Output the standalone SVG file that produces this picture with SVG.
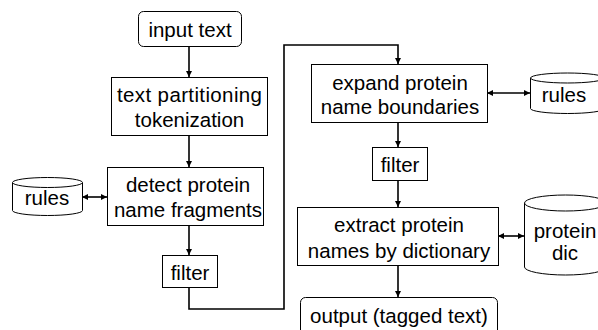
<svg xmlns="http://www.w3.org/2000/svg" width="598" height="330" viewBox="0 0 598 330">
  <defs>
    <marker id="ah" viewBox="0 0 10 10" refX="10" refY="5" markerWidth="4" markerHeight="4" orient="auto-start-reverse" markerUnits="strokeWidth">
      <path d="M0,0 L10,5 L0,10 Z" fill="#000"/>
    </marker>
  </defs>
  <style>
    .box { fill: #fff; stroke: #000; stroke-width: 1; }
    .db { fill: #fff; stroke: #000; stroke-width: 1; }
    .lbl { font-family: "Liberation Sans", Arial, sans-serif; font-size: 20.5px; fill: #000; text-anchor: middle; }
    .conn { fill: none; stroke: #000; stroke-width: 1.6; }
  </style>
  <rect width="598" height="330" fill="#fff"/>

  <g id="connectors">
    <path class="conn" d="M189,46 V77" marker-end="url(#ah)"/>
    <path class="conn" d="M189,135 V167" marker-end="url(#ah)"/>
    <path class="conn" d="M189,225 V255" marker-end="url(#ah)"/>
    <path class="conn" d="M82,197 H107" marker-start="url(#ah)" marker-end="url(#ah)"/>
    <path class="conn" d="M189,287 V309 H284 V45 H398 V64" marker-end="url(#ah)"/>
    <path class="conn" d="M487,93 H530" marker-start="url(#ah)" marker-end="url(#ah)"/>
    <path class="conn" d="M398,122 V147" marker-end="url(#ah)"/>
    <path class="conn" d="M398,180 V207" marker-end="url(#ah)"/>
    <path class="conn" d="M498,236 H524" marker-start="url(#ah)" marker-end="url(#ah)"/>
    <path class="conn" d="M398,265 V297" marker-end="url(#ah)"/>
  </g>

  <g id="input-text">
    <rect class="box" x="138.5" y="11.5" width="103" height="35" rx="5"/>
    <text class="lbl" x="190" y="37">input text</text>
  </g>

  <g id="partitioning">
    <rect class="box" x="111.5" y="77.5" width="156" height="58"/>
    <text class="lbl" x="189.5" y="102" textLength="145">text partitioning</text>
    <text class="lbl" x="189.5" y="127">tokenization</text>
  </g>

  <g id="detect-fragments">
    <rect class="box" x="107.5" y="167.5" width="156" height="58"/>
    <text class="lbl" x="188" y="192">detect protein</text>
    <text class="lbl" x="188" y="217">name fragments</text>
  </g>

  <g id="rules-left">
    <path class="db" d="M12.5,182.5 A35,5 0 0 1 82.5,182.5 V210.5 A35,5 0 0 1 12.5,210.5 Z"/>
    <path class="db" d="M12.5,182.5 A35,5 0 0 0 82.5,182.5"/>
    <text class="lbl" x="47" y="205">rules</text>
  </g>

  <g id="filter-1">
    <rect class="box" x="162.5" y="255.5" width="55" height="32"/>
    <text class="lbl" x="190" y="280">filter</text>
  </g>

  <g id="expand-boundaries">
    <rect class="box" x="311.5" y="64.5" width="176" height="58"/>
    <text class="lbl" x="400" y="90">expand protein</text>
    <text class="lbl" x="400" y="114">name boundaries</text>
  </g>

  <g id="rules-right">
    <path class="db" d="M530.5,78 A37,5 0 0 1 604.5,78 V108.5 A37,5 0 0 1 530.5,108.5 Z"/>
    <path class="db" d="M530.5,78 A37,5 0 0 0 604.5,78"/>
    <text class="lbl" x="564" y="102">rules</text>
  </g>

  <g id="filter-2">
    <rect class="box" x="372.5" y="147.5" width="55" height="33"/>
    <text class="lbl" x="400" y="172">filter</text>
  </g>

  <g id="extract-dictionary">
    <rect class="box" x="297.5" y="207.5" width="201" height="58"/>
    <text class="lbl" x="399" y="232">extract protein</text>
    <text class="lbl" x="399" y="258">names by dictionary</text>
  </g>

  <g id="protein-dic">
    <path class="db" d="M524.5,203 A41,8 0 0 1 606.5,203 V267 A41,8 0 0 1 524.5,267 Z"/>
    <path class="db" d="M524.5,203 A41,8 0 0 0 606.5,203"/>
    <text class="lbl" x="565" y="238">protein</text>
    <text class="lbl" x="565" y="260">dic</text>
  </g>

  <g id="output">
    <rect class="box" x="300.5" y="297.5" width="197" height="45" rx="5"/>
    <text class="lbl" x="399" y="323">output (tagged text)</text>
  </g>
</svg>
